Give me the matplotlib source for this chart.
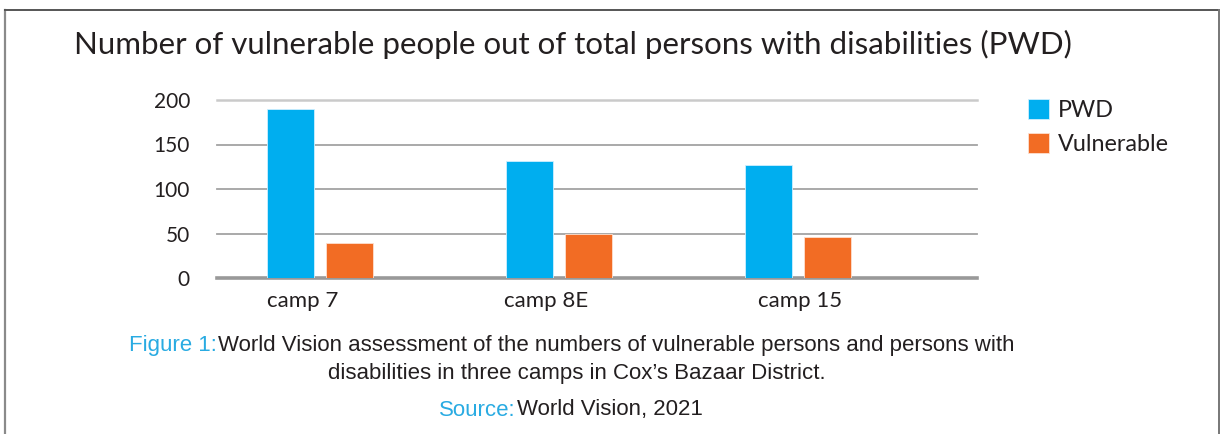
import matplotlib
matplotlib.use("Agg")
import matplotlib.pyplot as plt
from matplotlib.lines import Line2D
import numpy as np

categories = ["camp 7", "camp 8E", "camp 15"]
pwd = [190, 132, 127]
vulnerable = [39, 49, 46]
series_names = ["PWD", "Vulnerable"]
yticks = [0, 50, 100, 150, 200]
title = "Number of vulnerable people out of total persons with disabilities (PWD)"
cap_label = "Figure 1:"
cap_line1 = "World Vision assessment of the numbers of vulnerable persons and persons with"
cap_line2 = "disabilities in three camps in Cox\u2019s Bazaar District."
src_label = "Source:"
src_text = "World Vision, 2021"

BLUE = "#00AEEF"
ORANGE = "#F26C24"
TEXT = "#231F20"
CAPBLUE = "#29ABE2"

W, H = 1225, 434
fig = plt.figure(figsize=(W / 100, H / 100), dpi=100)
plt.rcParams['font.family'] = ['Lato', 'DejaVu Sans']

def fx(px):
    return px / W

def fy(py):
    return 1 - py / H

ax = fig.add_axes([fx(217), fy(278), fx(977) - fx(217), fy(100) - fy(278)])
x = np.arange(len(categories))
bw = 0.197
off = 0.123
ax.bar(x - off, pwd, bw, color=BLUE, edgecolor="#cfefff", linewidth=0.6, zorder=3, label=series_names[0])
ax.bar(x + off, vulnerable, bw, color=ORANGE, edgecolor="#fde0d0", linewidth=0.6, zorder=3, label=series_names[1])
ax.set_xlim(-0.431, 2.749)
ax.set_ylim(0, 200)
ax.set_yticks(yticks)
ax.set_yticklabels([str(v) for v in yticks], fontsize=15, color=TEXT)
label_shift = [-0.071, -0.054, 0.008]
ax.set_xticks(x + np.array(label_shift))
ax.set_xticklabels(categories, fontsize=16, color=TEXT)
ax.tick_params(axis='y', length=0, pad=19.5)
ax.tick_params(axis='x', length=0, pad=9.5)
for s in ax.spines.values():
    s.set_visible(False)
ax.yaxis.grid(True, zorder=0)
gls = ax.get_ygridlines()
for v, gl in zip(yticks, gls):
    if v == 0:
        gl.set_color("#999999"); gl.set_linewidth(2.6)
    elif v == 200:
        gl.set_color("#CACACA"); gl.set_linewidth(1.8)
    else:
        gl.set_color("#A3A3A3"); gl.set_linewidth(1.3)
    gl.set_clip_on(False)
ax.set_axisbelow(True)

fig.text(fx(573), fy(44), title, ha="center", va="center", fontsize=22.5, color=TEXT)

fig.legend(loc="upper left", bbox_to_anchor=(fx(1028), fy(99)), frameon=False,
           fontsize=16.8, handlelength=0.9, handleheight=0.95, handletextpad=0.4,
           labelspacing=0.5, borderpad=0, borderaxespad=0, labelcolor=TEXT)

# frame lines
fig.add_artist(Line2D([fx(5), fx(5)], [fy(10), 0], color="#8a8a8a", lw=1.6))
fig.add_artist(Line2D([fx(5), fx(1219)], [fy(10), fy(10)], color="#555555", lw=1.4))
fig.add_artist(Line2D([fx(1219), fx(1219)], [fy(10), 0], color="#777777", lw=1.4))

capfont = ['Liberation Sans Narrow', 'Liberation Sans', 'DejaVu Sans']
renderer = fig.canvas.get_renderer()

def two_part(label, text, cx, cy, size):
    t1 = fig.text(0, fy(cy), label, ha="left", va="center", fontsize=size, color=CAPBLUE, family=capfont)
    t2 = fig.text(0, fy(cy), text, ha="left", va="center", fontsize=size, color=TEXT, family=capfont)
    w1 = t1.get_window_extent(renderer).width
    w2 = t2.get_window_extent(renderer).width
    gap = 1.0
    total = w1 + gap + w2
    left = cx - total / 2
    t1.set_x(fx(left))
    t2.set_x(fx(left + w1 + gap))

two_part(cap_label, cap_line1, 572, 346, 16)
fig.text(fx(577), fy(373), cap_line2, ha="center", va="center", fontsize=16, color=TEXT, family=capfont)
two_part(src_label, src_text, 571, 410, 16)

fig.savefig("out.png", dpi=100)
